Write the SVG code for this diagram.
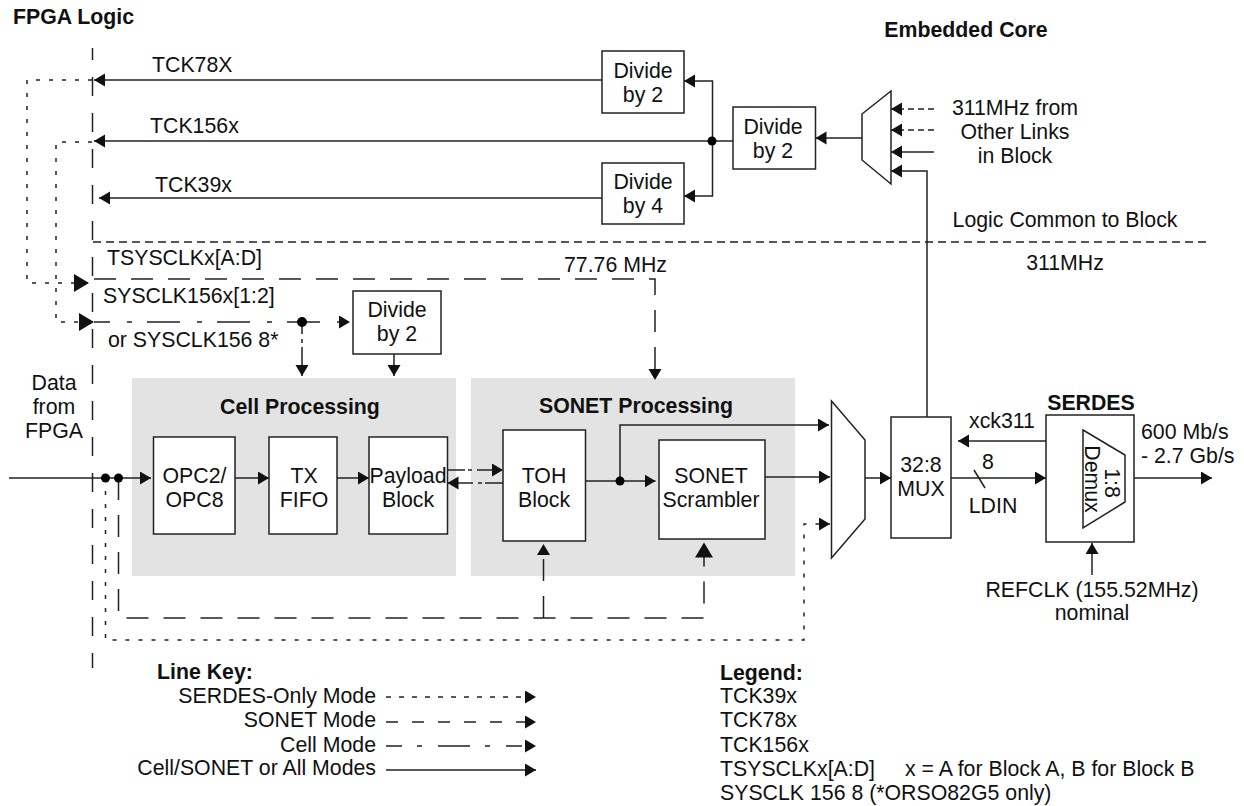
<svg xmlns="http://www.w3.org/2000/svg" width="1244" height="806" viewBox="0 0 1244 806">
<style>
text{font-family:"Liberation Sans",Arial,sans-serif;font-size:21.3px;fill:#111}
.b{font-weight:700}
.m{text-anchor:middle}
.e{text-anchor:end}
.box{fill:#fff;stroke:#222;stroke-width:1.5}
.panel{fill:#e3e3e3}
.l{fill:none;stroke:#222;stroke-width:1.5}
.dot{stroke-dasharray:4 9}
.dash{stroke-dasharray:22 15}
.sdash{stroke-dasharray:8 5}
.dd{stroke-dasharray:33 17 5 15;stroke-dashoffset:17}
.fr{stroke-dasharray:19 17;stroke-dashoffset:7}
.k{stroke-dasharray:6 4}
.pay{stroke-dasharray:18 3 4 5}
</style>
<defs>
<marker id="a" markerUnits="userSpaceOnUse" markerWidth="12" markerHeight="14" refX="11" refY="6.500" orient="auto"><path d="M0 0L11 6.500L0 13Z" fill="#111"/></marker>
<marker id="big" markerUnits="userSpaceOnUse" markerWidth="16" markerHeight="19" refX="15" refY="9" orient="auto"><path d="M0 0L15 9L0 18Z" fill="#111"/></marker>
</defs>
<g id="panels"><rect class="panel" x="132" y="378" width="324" height="198"/><rect class="panel" x="471" y="378" width="324" height="198"/></g>
<g id="connectors">
<path class="l fr" d="M92.500 48V668"/>
<path class="l sdash" d="M93 242H1210"/>
<path class="l" d="M602 80H94" marker-end="url(#a)"/>
<path class="l" d="M733 141H94" marker-end="url(#a)"/>
<path class="l" d="M602 198H99" marker-end="url(#a)"/>
<path class="l" d="M712.500 141V81H684" marker-end="url(#a)"/>
<path class="l" d="M712.500 141V196H684" marker-end="url(#a)"/>
<path class="l" d="M862 138H815.500" marker-end="url(#a)"/>
<path class="l k" d="M934 109H891" marker-end="url(#a)"/>
<path class="l k" d="M934 130H891" marker-end="url(#a)"/>
<path class="l" d="M934 152H891" marker-end="url(#a)"/>
<path class="l" d="M927 417V171H891" marker-end="url(#a)"/>
<path class="l dot" d="M92 80H27V283H89" marker-end="url(#big)"/>
<path class="l dot" d="M92 142H56V322H94" marker-end="url(#big)"/>
<path class="l dash" d="M94 279H655V380" marker-end="url(#a)"/>
<path class="l dd" d="M94 322H350" marker-end="url(#a)"/>
<path class="l" stroke-dasharray="12 5 4 4 30" d="M302 322V376" marker-end="url(#a)"/>
<path class="l" d="M394 354V376" marker-end="url(#a)"/>
<path class="l" d="M9 478H151" marker-end="url(#a)"/>
<path class="l" d="M235 478H269" marker-end="url(#a)"/>
<path class="l" d="M337 478H369" marker-end="url(#a)"/>
<path class="l pay" d="M447 470H503" marker-end="url(#a)"/>
<path class="l pay" d="M503 483H447.500" marker-end="url(#a)"/>
<path class="l" d="M586 481H655.500" marker-end="url(#a)"/>
<path class="l" d="M620 481V425H829" marker-end="url(#a)"/>
<path class="l" d="M765 477H830" marker-end="url(#a)"/>
<path class="l" d="M865 478H891" marker-end="url(#a)"/>
<path class="l" d="M951 478H1046" marker-end="url(#a)"/>
<path class="l" d="M1046 478H1082" marker-end="url(#a)"/>
<path class="l" d="M1046 441H958" marker-end="url(#a)"/>
<path class="l" d="M1134 478H1212" marker-end="url(#a)"/>
<path class="l" d="M1092 575V543" marker-end="url(#a)"/>
<path class="l" d="M974 470L985 488"/>
<path class="l dash" d="M118.500 478V618H704V542.500" marker-end="url(#big)"/>
<path class="l dash" d="M543.500 618V544" marker-end="url(#a)"/>
<path class="l dot" d="M105.500 478V640H804V524H830" marker-end="url(#a)"/>
<path class="l" stroke-dasharray="5 8" d="M386 697H536" marker-end="url(#a)"/>
<path class="l" stroke-dasharray="12 14" d="M386 722H536" marker-end="url(#a)"/>
<path class="l" stroke-dasharray="16 15 5 16 32 15 5 16" d="M386 746H536" marker-end="url(#a)"/>
<path class="l" d="M386 770H536" marker-end="url(#a)"/>
<circle cx="712" cy="141" r="4.500"/><circle cx="302" cy="322" r="5"/><circle cx="105.500" cy="478" r="4.500"/><circle cx="118.500" cy="478" r="4.500"/><circle cx="620" cy="481" r="4.500"/>
</g>
<g id="divide-a"><rect class="box" x="602" y="51" width="82" height="62"/><text class="m" x="643" y="78">Divide</text><text class="m" x="643" y="102">by 2</text></g>
<g id="divide-b"><rect class="box" x="602" y="163" width="82" height="61"/><text class="m" x="643" y="189">Divide</text><text class="m" x="643" y="213">by 4</text></g>
<g id="divide-c"><rect class="box" x="733" y="107" width="82.500" height="62"/><text class="m" x="773" y="134">Divide</text><text class="m" x="773" y="158">by 2</text></g>
<g id="divide-d"><rect class="box" x="353" y="291" width="88" height="63"/><text class="m" x="397" y="317">Divide</text><text class="m" x="397" y="341">by 2</text></g>
<g id="mux-top"><path class="box" d="M862 114L891 91V184L862 160Z"/></g>
<g id="opc"><rect class="box" x="153.500" y="437" width="81.500" height="97"/><text class="m" x="194.500" y="483">OPC2/</text><text class="m" x="194.500" y="507">OPC8</text></g>
<g id="fifo"><rect class="box" x="269" y="437" width="68" height="97"/><text class="m" x="304" y="483">TX</text><text class="m" x="304" y="507">FIFO</text></g>
<g id="payload"><rect class="box" x="369" y="437" width="78.500" height="97"/><text class="m" x="408" y="483">Payload</text><text class="m" x="408" y="507">Block</text></g>
<g id="toh"><rect class="box" x="503" y="430" width="82.500" height="111"/><text class="m" x="544" y="483">TOH</text><text class="m" x="544" y="507">Block</text></g>
<g id="scrambler"><rect class="box" x="659" y="440" width="106" height="99"/><text class="m" x="711" y="483">SONET</text><text class="m" x="711" y="507">Scrambler</text></g>
<g id="mux-mid"><path class="box" d="M831.500 401L865 440V519L831.500 558Z"/></g>
<g id="mux"><rect class="box" x="891" y="417" width="60" height="121"/><text class="m" x="921" y="472">32:8</text><text class="m" x="921" y="496">MUX</text></g>
<g id="serdes"><rect class="box" x="1046" y="415" width="88" height="127"/><path class="box" d="M1083 430L1125 455V502L1083 528Z"/><text class="m" transform="translate(1085 479) rotate(90)">Demux</text><text class="m" transform="translate(1105 483) rotate(90)">1:8</text></g>
<g id="labels">
<text class="b" x="13" y="24">FPGA Logic</text>
<text class="b m" x="966" y="37">Embedded Core</text>
<text x="152" y="72">TCK78X</text><text x="150" y="133">TCK156x</text><text x="155" y="192">TCK39x</text>
<text x="107" y="265">TSYSCLKx[A:D]</text><text x="103" y="303">SYSCLK156x[1:2]</text><text x="108" y="347">or SYSCLK156 8*</text>
<text x="564" y="272">77.76 MHz</text>
<text class="m" x="1015" y="115">311MHz from</text><text class="m" x="1015" y="139">Other Links</text><text class="m" x="1015" y="163">in Block</text>
<text class="m" x="1065" y="227">Logic Common to Block</text><text class="m" x="1065" y="270">311MHz</text>
<text class="m" x="54" y="390">Data</text><text class="m" x="54" y="414">from</text><text class="m" x="54" y="438">FPGA</text>
<text class="b m" x="300" y="414">Cell Processing</text><text class="b m" x="636" y="413">SONET Processing</text>
<text class="b m" x="1091" y="410">SERDES</text>
<text class="m" x="1002" y="428">xck311</text><text class="m" x="988" y="469">8</text><text class="m" x="993" y="513">LDIN</text>
<text x="1141" y="439">600 Mb/s</text><text x="1141" y="463">- 2.7 Gb/s</text>
<text class="m" x="1092" y="597">REFCLK (155.52MHz)</text><text class="m" x="1092" y="620">nominal</text>
<text class="b" x="157" y="679">Line Key:</text>
<text class="e" x="376" y="703">SERDES-Only Mode</text><text class="e" x="376" y="727">SONET Mode</text><text class="e" x="376" y="752">Cell Mode</text><text class="e" x="376" y="775">Cell/SONET or All Modes</text>
<text class="b" x="720" y="680">Legend:</text>
<text x="720" y="703">TCK39x</text><text x="720" y="727">TCK78x</text><text x="720" y="752">TCK156x</text><text x="720" y="776">TSYSCLKx[A:D]</text><text x="905" y="776">x = A for Block A, B for Block B</text><text x="720" y="800">SYSCLK 156 8 (*ORSO82G5 only)</text>
</g>
</svg>
